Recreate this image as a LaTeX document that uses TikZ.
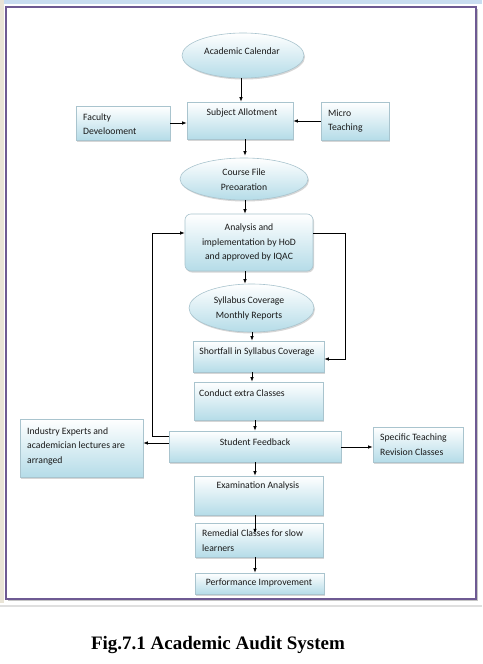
\documentclass[tikz,border=0pt]{standalone}
\usepackage{fontspec}
\newfontfamily\calfont{Carlito}
\newfontfamily\capfont{Liberation Serif}
\usetikzlibrary{arrows.meta,shapes.geometric,shadows}
\definecolor{boxblue}{HTML}{B5DCE8}
\definecolor{boxline}{HTML}{A9C4CE}
\definecolor{framepurple}{HTML}{6E5A93}
\definecolor{topbar}{HTML}{C9DDF0}
\definecolor{leftbar}{HTML}{E9E4D6}
\tikzset{
  base/.style={draw=boxline, line width=0.6pt, top color=white, bottom color=boxblue,
    inner sep=0pt, drop shadow={shadow xshift=1pt, shadow yshift=-1.5pt, fill=gray!45, opacity=0.7}},
  rbox/.style={base, rectangle},
  rrbox/.style={base, rectangle, rounded corners=6pt},
  ebox/.style={base, ellipse},
  txt/.style={font=\calfont\fontsize{9.7}{14.5}\selectfont, text=black!90, inner sep=0pt, align=center},
  ltxt/.style={txt, align=left, anchor=west},
  arr/.style={-{Latex[length=4.5pt,width=3.5pt]}, line width=0.7pt, black},
}
\begin{document}
\begin{tikzpicture}[x=1pt,y=-1pt]
\useasboundingbox (0,0) rectangle (482,664);
\fill[white] (0,0) rectangle (482,664);
\fill[topbar] (0,0) rectangle (482,4);
\fill[leftbar] (0,0) rectangle (4,603);
\fill[gray!25] (0,605) rectangle (482,607);
\fill[gray!45] (8,9) rectangle (478,601);
\draw[framepurple, line width=2pt, fill=white] (6,7) rectangle (476,599);

% nodes
\node[ebox, minimum width=122, minimum height=45] (ac) at (243,55.5) {};
\node[txt] (acT) at (242,51) {Academic Calendar};
\node[rbox, minimum width=106, minimum height=37] (sa) at (240,120.5) {};
\node[txt] (saT) at (242,113) {Subject Allotment};
\node[rbox, minimum width=94, minimum height=34] (fd) at (123,123) {};
\node[ltxt] (fdT) at (83,124) {Faculty\\Develooment};
\node[rbox, minimum width=68, minimum height=38] (mt) at (355,121) {};
\node[ltxt] (mtT) at (328,121) {Micro\\Teaching};
\node[ebox, minimum width=128, minimum height=42] (cf) at (244,179) {};
\node[txt] (cfT) at (244,179.5) {Course File\\Preoaration};
\node[rrbox, minimum width=128, minimum height=57] (an) at (249,242.5) {};
\node[txt] (anT) at (249,242.5) {Analysis and\\implementation by HoD\\and approved by IQAC};
\node[ebox, minimum width=125, minimum height=48] (sy) at (251.5,308) {};
\node[txt] (syT) at (249,308.5) {Syllabus Coverage\\Monthly Reports};
\node[rbox, minimum width=131, minimum height=31] (sh) at (258.5,356.5) {};
\node[txt] (shT) at (257,352) {Shortfall in Syllabus Coverage};
\node[rbox, minimum width=129, minimum height=38] (ce) at (258.5,401) {};
\node[ltxt] (ceT) at (199,393) {Conduct extra Classes};
\node[rbox, minimum width=172, minimum height=31] (sf) at (255,446.5) {};
\node[txt] (sfT) at (255,442) {Student Feedback};
\node[rbox, minimum width=123, minimum height=58] (ie) at (81.5,448) {};
\node[ltxt] (ieT) at (27,446) {Industry Experts and\\academician lectures are\\arranged};
\node[rbox, minimum width=90, minimum height=35] (st) at (418,444.5) {};
\node[ltxt] (stT) at (380,444.5) {Specific Teaching\\Revision Classes};
\node[rbox, minimum width=129, minimum height=39] (ea) at (258.5,495.5) {};
\node[txt] (eaT) at (258,486) {Examination Analysis};
\node[rbox, minimum width=128, minimum height=34] (rc) at (259,540) {};
\node[ltxt] (rcT) at (202,540.5) {Remedial Classes for slow\\learners};
\node[rbox, minimum width=129, minimum height=21] (pi) at (259.5,583.5) {};
\node[txt] (piT) at (259,583) {Performance Improvement};

\node[font=\capfont\bfseries\fontsize{19}{22}\selectfont, inner sep=0pt] (cap) at (218,645) {Fig.7.1 Academic Audit System};

% column coordinates
\coordinate (c241) at (241,0);
\coordinate (c245) at (245,0);
\coordinate (c252) at (252,0);
\coordinate (c255) at (255,0);
\coordinate (xl) at (152,0);
\coordinate (xr) at (345,0);
\coordinate (sfW1) at ([yshift=3.5pt]sf.west);
\coordinate (sfW2) at ([yshift=10.5pt]sf.west);
\coordinate (sfE) at ([yshift=-0.5pt]sf.east);
\coordinate (anW) at ([yshift=9.5pt]an.west);
\coordinate (anE) at ([yshift=9.5pt]an.east);
\coordinate (shE) at ([yshift=-2.5pt]sh.east);
\coordinate (cfN) at ([yshift=2pt]cf.north);

% connectors
\draw[arr] (c241 |- ac.south) -- (c241 |- sa.north);
\draw[arr] (fd.east) -- (sa.west |- fd.east);
\draw[arr] (mt.west) -- (sa.east |- mt.west);
\draw[arr] (c245 |- sa.south) -- (c245 |- cfN);
\draw[arr] (c245 |- cf.south) -- (c245 |- an.north);
\draw[arr] (c245 |- an.south) -- (c245 |- sy.north);
\draw[arr] (c252 |- sy.south) -- (c252 |- sh.north);
\draw[arr] (c252 |- sh.south) -- (c252 |- ce.north);
\draw[arr] (c255 |- ce.south) -- (c255 |- sf.north);
\draw[arr] (sfW1) -- (ie.east |- sfW1);
\draw[arr] (sfE) -- (st.west |- sfE);
\draw[arr] (c255 |- sf.south) -- (c255 |- ea.north);
\draw[arr] (c255 |- ea.south) -- ++(0,18);
\draw[arr] (c255 |- rc.south) -- (c255 |- pi.north);
\draw[arr] (sfW2) -| (xl |- anW) -- (anW);
\draw[arr] (anE) -| (xr |- shE) -- (shE);
\end{tikzpicture}
\end{document}
